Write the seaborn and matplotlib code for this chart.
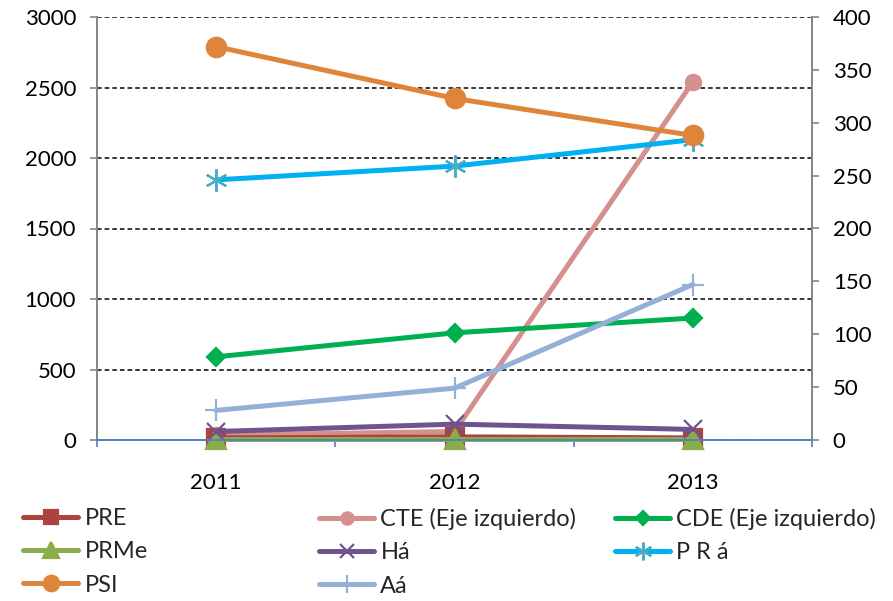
"""Line chart with two y axes (left: CTE / CDE, right: the rest)"""

import matplotlib.pyplot as plt
import numpy as np
import pandas as pd
import seaborn as sns


# --------------------------------------------------------------------------- #
# Data
years = ['2011', '2012', '2013']

# left axis (Eje izquierdo)
cte = [35, 60, 2540]
cde = [590, 760, 865]

# right axis
pre = [2, 3, 2]
prme = [0.5, 0.5, 0.5]
ha = [8, 15, 10]
pra = [246, 259, 284]
psi = [372, 323, 288]
aa = [28, 49, 147]

# --------------------------------------------------------------------------- #
sns.set_theme(style='white')
plt.rcParams['font.family'] = ['Lato', 'DejaVu Sans']
FS = 16

pos = np.arange(len(years))
df = pd.DataFrame({'pos': pos, 'PRE': pre, 'CTE (Eje izquierdo)': cte,
                   'CDE (Eje izquierdo)': cde, 'PRMe': prme, 'Há': ha,
                   'P R á': pra, 'PSI': psi, 'Aá': aa})

fig = plt.figure(figsize=(8.93, 6.01), dpi=100)
ax = fig.add_axes([97 / 893, 1 - 440 / 601, 715 / 893, 423 / 601])
ax2 = ax.twinx()

# name, axis, line colour, marker, marker size, marker colour
series = [
    ('CTE (Eje izquierdo)', ax, '#D4908E', 'o', 11, '#D4908E'),
    ('CDE (Eje izquierdo)', ax, '#00B050', 'D', 9, '#00B050'),
    ('PRE', ax2, '#AD433F', 's', 13, '#AD433F'),
    ('PRMe', ax2, '#8BAC4B', '^', 14, '#8BAC4B'),
    ('Há', ax2, '#6F538F', 'x', 13, '#6F538F'),
    ('P R á', ax2, '#00B0F0', (6, 2, 0), 16, '#4BACC6'),
    ('PSI', ax2, '#DE853B', 'o', 14, '#DE853B'),
    ('Aá', ax2, '#95B0D8', '+', 16, '#95B0D8'),
]

handles = {}
for name, a, col, mk, ms, mcol in series:
    sns.lineplot(data=df, x='pos', y=name, ax=a, color=col, lw=3.6,
                 marker=mk, markersize=ms, markerfacecolor=mcol,
                 markeredgecolor=mcol, markeredgewidth=1.6, label=name,
                 legend=False, clip_on=False)
    handles[name] = a.lines[-1]

# axes
ax.set_xlim(-0.5, 2.5)
ax.set_ylim(0, 3000)
ax2.set_ylim(0, 400)
ax.set_yticks(np.arange(0, 3001, 500))
ax2.set_yticks(np.arange(0, 401, 50))
ax.set_xticks(pos)
ax.set_xticklabels(years)
ax.set_xticks([-0.5, 0.5, 1.5, 2.5], minor=True)
ax.set_xlabel('')
ax.set_ylabel('')
ax2.set_ylabel('')

ax.yaxis.grid(True, color='black', linestyle=(0, (3, 2)), lw=1.1)
ax.set_axisbelow(True)
ax.xaxis.grid(False)

for a in (ax, ax2):
    a.spines['top'].set_visible(False)
    a.spines['bottom'].set_color('#4F81BD')
    a.spines['bottom'].set_linewidth(1.3)
    a.spines['left'].set_color('#868686')
    a.spines['right'].set_color('#868686')
    a.spines['left'].set_linewidth(1.3)
    a.spines['right'].set_linewidth(1.3)

ax.tick_params(axis='y', left=True, length=5, width=1.2, color='#868686',
               labelsize=FS, pad=10, labelcolor='black')
ax2.tick_params(axis='y', right=True, length=5, width=1.2, color='#868686',
                labelsize=FS, pad=10, labelcolor='black')
ax.tick_params(axis='x', which='major', length=0, labelsize=FS, pad=24,
               labelcolor='black')
ax.tick_params(axis='x', which='minor', bottom=True, length=5, width=1.2,
               color='#4F81BD')

# legend: three columns placed like the original
cols = [['PRE', 'PRMe', 'PSI'],
        ['CTE (Eje izquierdo)', 'Há', 'Aá'],
        ['CDE (Eje izquierdo)', 'P R á']]
xs = [23, 319, 615]
for names, x0 in zip(cols, xs):
    fig.legend([handles[n] for n in names], names, loc='upper left',
               bbox_to_anchor=(x0 / 893, 1 - 508 / 601), frameon=False,
               fontsize=17, borderpad=0, borderaxespad=0, handlelength=2.35,
               handletextpad=0.25, labelspacing=0.52, markerscale=0.8)

fig.savefig('out.png', dpi=100)
